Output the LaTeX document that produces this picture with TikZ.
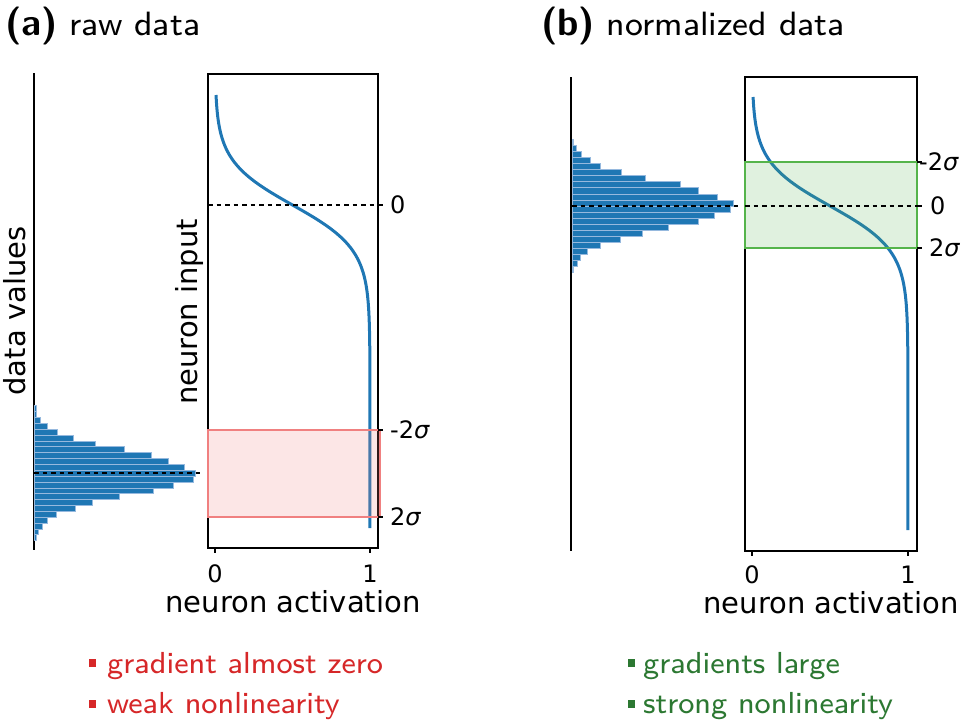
\documentclass[tikz,border=0pt]{standalone}
\usepackage{fontspec}
\newfontfamily\dvs{DejaVu Sans}
\newfontfamily\lmseight{lmsans8-regular}[Extension=.otf, BoldFont=lmsans10-bold]
\definecolor{tabblue}{RGB}{31,119,180}
\definecolor{histedge}{RGB}{150,185,222}
\definecolor{lcoral}{RGB}{240,128,128}
\definecolor{boxgreen}{RGB}{85,180,75}
\definecolor{txtred}{RGB}{214,39,40}
\definecolor{txtgreen}{RGB}{44,120,50}
\begin{document}
\begin{tikzpicture}[x=1pt,y=-1pt,
  spine/.style={line width=2pt, black},
  tickmark/.style={line width=1.6pt, black},
  curve/.style={tabblue, line width=3pt},
  zeroline/.style={black, dash pattern=on 4.5pt off 4pt, line width=2pt},
  bar/.style={fill=tabblue, draw=histedge, line width=0.8pt},
  axlabel/.style={font=\dvs\fontsize{29}{34}\selectfont, inner sep=0pt},
  ticklabel/.style={font=\dvs\fontsize{24}{28}\selectfont, inner sep=0pt},
  titletext/.style={font=\lmseight\fontsize{33.7}{40}\selectfont, inner sep=0pt, anchor=base west},
  bullettext/.style={font=\lmseight\fontsize{30.4}{38}\selectfont, inner sep=0pt, anchor=base west}]
\useasboundingbox (0,0) rectangle (969,720);

% ---------------- titles
\node[titletext] (ta) at (5,35) {{\sffamily\bfseries\fontsize{38}{40}\selectfont (a)} raw data};
\node[titletext] (tb) at (541,35) {{\sffamily\bfseries\fontsize{38}{40}\selectfont (b)} normalized data};

% ---------------- panel (a) histogram
\draw[spine] (34,73) -- (34,550);
\foreach \k/\l in {-11/2,-10/2.5,-9/6.7,-8/13,-7/23.3,-6/39.7,-5/61.3,-4/90.7,-3/117.3,-2/134.7,-1/150,0/161.3,1/159.7,2/139.3,3/119.3,4/85.3,5/58.7,6/41,7/22.7,8/13.7,9/8.7,10/4,11/2.3}
  \draw[bar] (34,{470.3+\k*5.87}) rectangle ++(\l,5.87);
\draw[zeroline] (34,473) -- (200,473);
\node[axlabel, rotate=90, anchor=base] (dva) at (25,311) {data values};

% ---------------- panel (a) activation plot
\draw[spine] (208,74) rectangle (378,548);
\draw[curve] plot[domain=95:528, samples=200, variable=\t]
  ({215+155/(1+exp(-max(-9,min(9,(\t-205)/22))))}, \t);
\draw[zeroline] (208,205) -- (378,205);
\draw[lcoral, line width=2.5pt, fill=lcoral, fill opacity=0.2] (208,430) rectangle (380,517);
\foreach \yy in {205,430,517} \draw[tickmark] (378,\yy) -- (383,\yy);
\foreach \xx in {215,370} \draw[tickmark] (\xx,548) -- (\xx,553);
\node[ticklabel, anchor=base west] (a0) at (390,213.7) {0};
\node[ticklabel, anchor=base west] (am) at (390,438.7) {-2{\itshape σ}};
\node[ticklabel, anchor=base west] (ap) at (390,525.7) {2{\itshape σ}};
\node[ticklabel, anchor=base] (ax0) at (215,582) {0};
\node[ticklabel, anchor=base] (ax1) at (370,582) {1};
\node[axlabel, anchor=base] (naa) at (293,612) {neuron activation};
\node[axlabel, rotate=90, anchor=base] (nia) at (197,312) {neuron input};

% ---------------- panel (b) histogram
\draw[spine] (571,77) -- (571,551);
\foreach \k/\l in {-10/1.3,-9/4,-8/9.7,-7/18.3,-6/28.3,-5/49,-4/73,-3/108,-2/126.7,-1/145.7,0/161.7,1/158.3,2/142,3/126.3,4/96.3,5/70.7,6/48.7,7/28.3,8/15.7,9/8.3,10/5.7,11/1.3}
  \draw[bar] (572,{200+\k*6.07}) rectangle ++(\l,6.07);
\draw[zeroline] (572,206) -- (738,206);

% ---------------- panel (b) activation plot
\draw[spine] (745,77) rectangle (917,551);
\draw[curve] plot[domain=97:530, samples=200, variable=\t]
  ({752+156/(1+exp(-max(-9,min(9,(\t-206)/22))))}, \t);
\draw[boxgreen, line width=2.5pt, fill=boxgreen, fill opacity=0.18] (745,162) rectangle (917,248);
\draw[zeroline] (745,206) -- (917,206);
\foreach \yy in {162,206,248} \draw[tickmark] (917,\yy) -- (922,\yy);
\foreach \xx in {752,908} \draw[tickmark] (\xx,551) -- (\xx,556);
\node[ticklabel, anchor=base west] (b0) at (930,214.7) {0};
\node[ticklabel, anchor=base west] (bm) at (919,170.7) {-2{\itshape σ}};
\node[ticklabel, anchor=base west] (bp) at (929,256.7) {2{\itshape σ}};
\node[ticklabel, anchor=base] (bx0) at (752,583) {0};
\node[ticklabel, anchor=base] (bx1) at (908,583) {1};
\node[axlabel, anchor=base] (nab) at (831,613) {neuron activation};

% ---------------- bullets
\fill[txtred] (88.5,659) rectangle (96,666.5);
\node[bullettext, text=txtred] (r1) at (107,673) {gradient almost zero};
\fill[txtred] (88.5,700) rectangle (96,707.5);
\node[bullettext, text=txtred] (r2) at (107,713) {weak nonlinearity};
\fill[txtgreen] (627.5,659) rectangle (635,666.5);
\node[bullettext, text=txtgreen] (g1) at (643,673) {gradients large};
\fill[txtgreen] (627.5,700) rectangle (635,707.5);
\node[bullettext, text=txtgreen] (g2) at (643,713) {strong nonlinearity};
\end{tikzpicture}
\end{document}
